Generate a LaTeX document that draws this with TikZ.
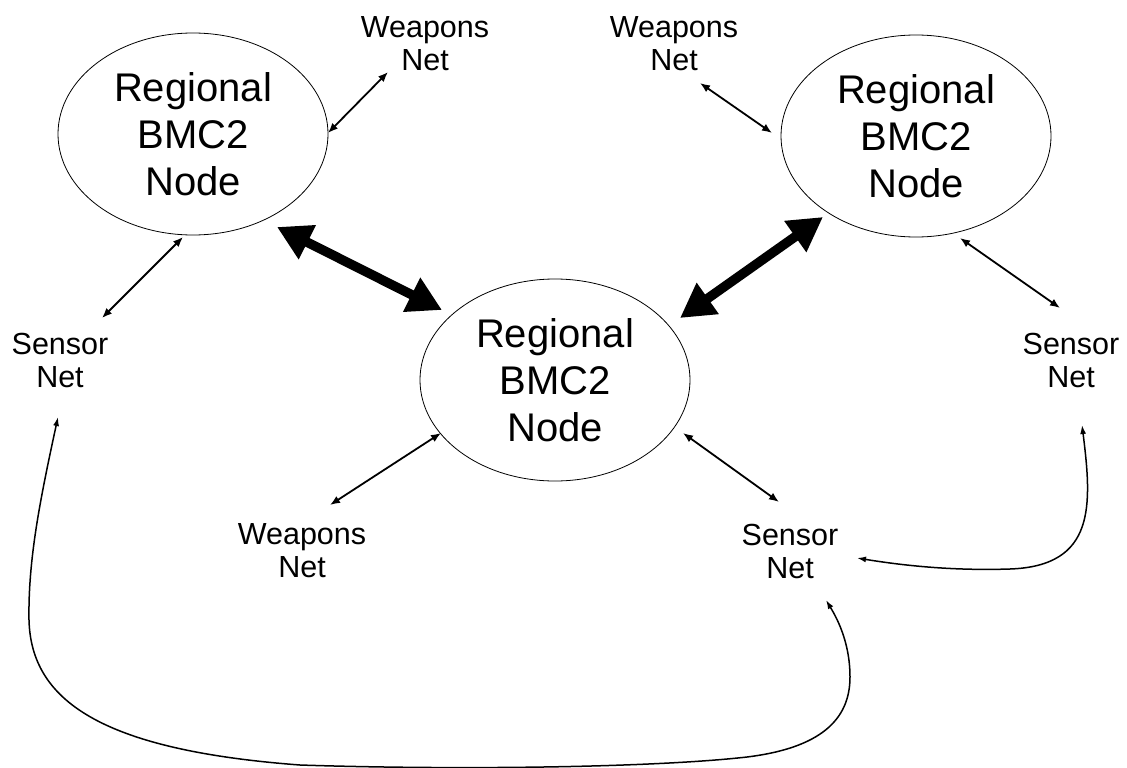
\documentclass[tikz,border=0pt]{standalone}
\usepackage{fontspec}
\setmainfont{Liberation Sans}
\usetikzlibrary{shapes.geometric,arrows.meta,calc}
\begin{document}
\begin{tikzpicture}[x=1pt,y=-1pt,
  bignode/.style={draw,ellipse,line width=0.8pt,minimum width=270pt,minimum height=202pt,inner sep=0pt,align=center,font=\fontsize{40}{47}\selectfont},
  netlabel/.style={align=center,inner sep=0pt,font=\fontsize{30.5}{33}\selectfont},
  thinarrow/.style={line width=1.8pt,{Latex[length=10pt,width=8pt]}-{Latex[length=10pt,width=8pt]}},
  thickarrow/.style={line width=9.5pt,{Triangle[length=34pt,width=36pt]}-{Triangle[length=34pt,width=36pt]}},
  curvearrow/.style={line width=1.5pt,{Latex[length=9pt,width=6pt]}-{Latex[length=9pt,width=6pt]}}
]
\useasboundingbox (0,0) rectangle (1127,768);

\node[bignode] (L) at (193,134) {Regional\\BMC2\\Node};
\node[bignode] (R) at (916,136) {Regional\\BMC2\\Node};
\node[bignode] (C) at (555,380) {Regional\\BMC2\\Node};

\node[netlabel] (WN1) at (425,43.5) {Weapons\\Net};
\node[netlabel] (WN2) at (674,43.5) {Weapons\\Net};
\node[netlabel] (WN3) at (302,551) {Weapons\\Net};
\node[netlabel] (SN1) at (60,360) {Sensor\\Net};
\node[netlabel] (SN2) at (1071,360) {Sensor\\Net};
\node[netlabel] (SN3) at (790,551) {Sensor\\Net};

\draw[thinarrow] ($(L)+(135,-1)$) -- ($(WN1)+(-37,28.5)$);
\draw[thinarrow] ($(R)+(-144,-3)$) -- ($(WN2)+(26,39.5)$);
\draw[thinarrow] ($(L)+(-10,103)$) -- ($(SN1)+(42,-42)$);
\draw[thinarrow] ($(R)+(44,102)$) -- ($(SN2)+(-11,-52)$);
\draw[thinarrow] ($(C)+(-114,53)$) -- ($(WN3)+(28,-46)$);
\draw[thinarrow] ($(C)+(128,53)$) -- ($(SN3)+(-11,-49)$);

\draw[thickarrow] ($(L)+(84,93)$) -- ($(C)+(-113,-70)$);
\draw[thickarrow] ($(R)+(-93,81)$) -- ($(C)+(125,-62)$);

\draw[curvearrow] ($(SN2)+(11,65)$) .. controls (1092,505) and (1096,566) .. (1010,569)
  .. controls (950,571) and (900,565) .. ($(SN3)+(67,7)$);
\draw[curvearrow] ($(SN1)+(-2,57)$) .. controls (40,500) and (28,560) .. (29,620)
  .. controls (31,700) and (100,750) .. (300,765)
  .. controls (450,770) and (650,768) .. (747,757)
  .. controls (820,748) and (850,720) .. (850,677)
  .. controls (850,640) and (835,615) .. ($(SN3)+(36,49)$);
\end{tikzpicture}
\end{document}
